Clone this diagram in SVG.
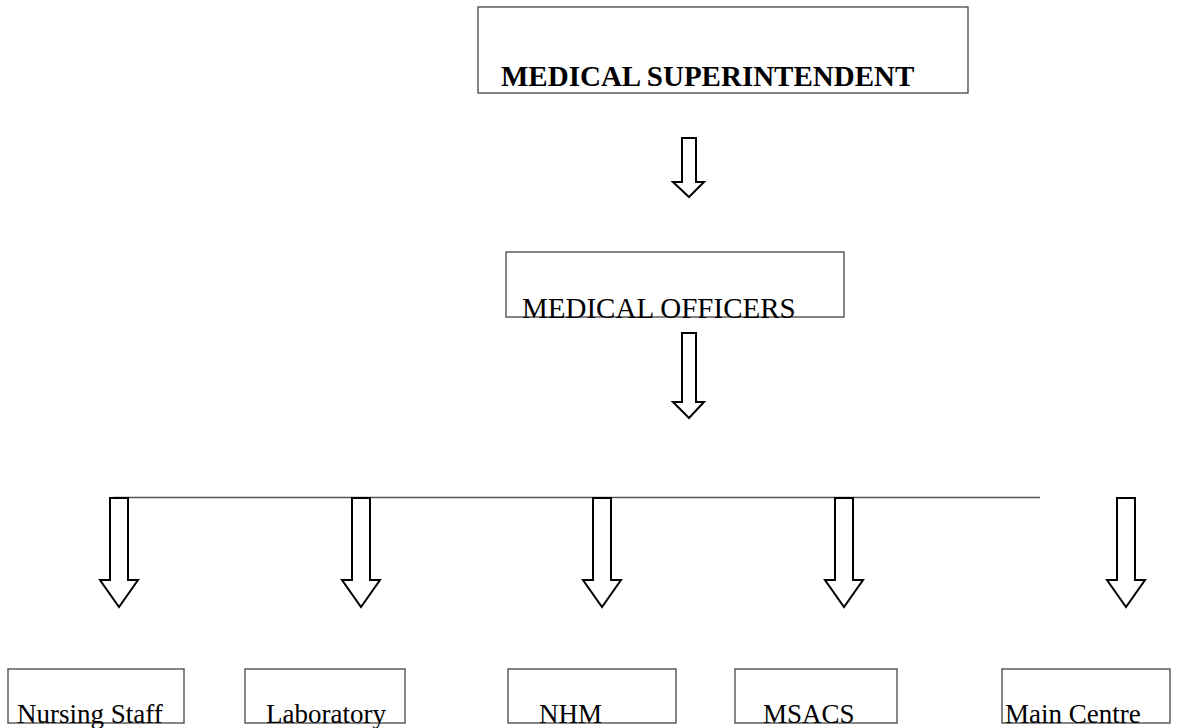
<svg xmlns="http://www.w3.org/2000/svg" width="1177" height="728" viewBox="0 0 1177 728">
<style>
.box{fill:#fff;stroke:#444;stroke-width:1.3}
.arr{fill:#fff;stroke:#000;stroke-width:2;stroke-linejoin:miter}
.t{font-family:"Liberation Serif","Times New Roman",serif;fill:#000}
.b{font-weight:bold;font-size:29px}
.m{font-size:29px}
.s{font-size:27px}
</style>
<rect width="1177" height="728" fill="#fff"/>
<g id="connectors">
<path class="arr" d="M682,138 H696 V182 H704 L689,197 L673,182 H682 Z"/>
<path class="arr" d="M682,333 H696 V402 H704 L689,418 L673,402 H682 Z"/>
<line x1="113" y1="497.5" x2="1040" y2="497.5" stroke="#555" stroke-width="1.3"/>
<path class="arr" d="M110,498 H128 V580 H138 L119,607 L100,580 H110 Z"/>
<path class="arr" d="M352,498 H370 V580 H380 L361,607 L342,580 H352 Z"/>
<path class="arr" d="M593,498 H611 V580 H621 L602,607 L583,580 H593 Z"/>
<path class="arr" d="M835,498 H853 V580 H863 L844,607 L825,580 H835 Z"/>
<path class="arr" d="M1117,498 H1135 V580 H1145 L1126,607 L1107,580 H1117 Z"/>
</g>
<g id="medical-superintendent">
<rect class="box" x="478" y="7" width="490" height="86"/>
<text class="t b" x="501" y="86">MEDICAL SUPERINTENDENT</text>
</g>
<g id="medical-officers">
<rect class="box" x="506" y="252" width="338" height="65"/>
<text class="t m" x="522" y="318">MEDICAL OFFICERS</text>
</g>
<g id="nursing-staff">
<rect class="box" x="8" y="669" width="176" height="54"/>
<text class="t s" x="17" y="723">Nursing Staff</text>
</g>
<g id="laboratory">
<rect class="box" x="245" y="669" width="160" height="54"/>
<text class="t s" x="266" y="723">Laboratory</text>
</g>
<g id="nhm">
<rect class="box" x="508" y="669" width="168" height="54"/>
<text class="t s" x="539" y="723">NHM</text>
</g>
<g id="msacs">
<rect class="box" x="735" y="669" width="162" height="54"/>
<text class="t s" x="763" y="723">MSACS</text>
</g>
<g id="main-centre">
<rect class="box" x="1002" y="669" width="168" height="54"/>
<text class="t s" x="1005" y="723">Main Centre</text>
</g>
</svg>
